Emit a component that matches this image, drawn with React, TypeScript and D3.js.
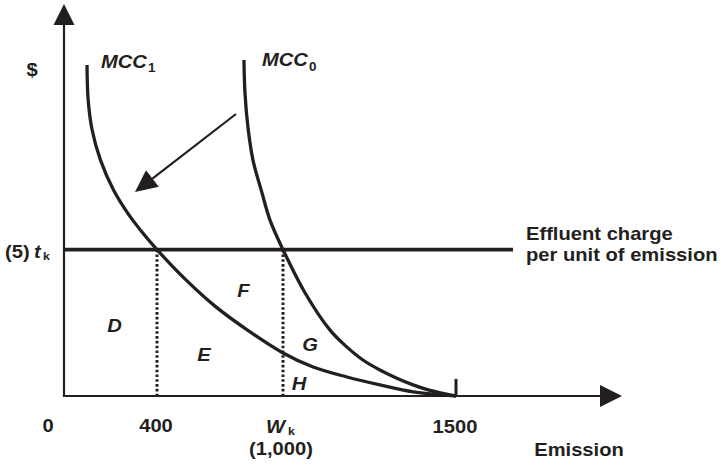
import React from "react";
import * as d3 from "d3";

// ---- data (schematic economic chart) ----
const xBreaks = [0, 400, 1000, 1500];
const xTickLabels = ["0", "400", "", "1500"];
const tax = 5; // t_k
const wk = 1000;
const yMax = 13.36;

const mcc1X = [99, 104, 121, 157, 213, 280, 346, 400, 533, 676, 843, 1000, 1087, 1185, 1280, 1376, 1500];
const mcc1Y = [11.31, 10.11, 9.09, 8.06, 7.04, 6.18, 5.5, 5, 4.0, 3.07, 2.19, 1.47, 0.99, 0.65, 0.38, 0.14, 0];
const mcc0X = [814, 819, 833, 857, 900, 938, 1000, 1064, 1136, 1185, 1231, 1280, 1329, 1376, 1425, 1500];
const mcc0Y = [11.48, 10.35, 9.19, 8.06, 6.94, 6.01, 5, 3.52, 2.25, 1.67, 1.23, 0.89, 0.61, 0.38, 0.19, 0];

const areaLabels = ["D", "E", "F", "G", "H"];
const areaX = [217, 624, 812, 1078, 1046];
const areaY = [2.19, 1.2, 3.38, 1.54, 0.2];

const INK = "#231f20";
const SX = 1.12;
const FONT = "'Liberation Sans', Arial, sans-serif";

type TProps = {
  x: number;
  y: number;
  size?: number;
  anchor?: "start" | "middle" | "end";
  italic?: boolean;
  children: React.ReactNode;
};

function T({ x, y, size = 18, anchor = "start", italic = false, children }: TProps) {
  return (
    <text
      transform={`translate(${x},${y}) scale(${SX},1)`}
      fontFamily={FONT}
      fontSize={size}
      fontStyle={italic ? "italic" : "normal"}
      fontWeight="bold"
      textAnchor={anchor}
      fill={INK}
    >
      {children}
    </text>
  );
}

export default function App() {
  const W = 721;
  const H = 468;
  const x = d3.scaleLinear().domain(xBreaks).range([64, 157, 283, 456]);
  const y = d3.scaleLinear().domain([0, yMax]).range([396, 5]);

  const line = d3
    .line<[number, number]>()
    .x((d) => x(d[0]))
    .y((d) => y(d[1]))
    .curve(d3.curveCatmullRom.alpha(0.5));

  const mcc1 = mcc1X.map((v, i) => [v, mcc1Y[i]] as [number, number]);
  const mcc0 = mcc0X.map((v, i) => [v, mcc0Y[i]] as [number, number]);

  const x0 = x(0);
  const yBase = y(0);
  const yTax = y(tax);

  // inner arrow
  const aStart: [number, number] = [236, 114];
  const aTip: [number, number] = [135, 192];
  const dx = aTip[0] - aStart[0];
  const dy = aTip[1] - aStart[1];
  const len = Math.hypot(dx, dy);
  const ux = dx / len;
  const uy = dy / len;
  const hl = 22;
  const hw = 10.5;
  const bx = aTip[0] - ux * hl;
  const by = aTip[1] - uy * hl;
  const head = `M${aTip[0]},${aTip[1]} L${bx - uy * hw},${by + ux * hw} L${bx + uy * hw},${by - ux * hw} Z`;

  return (
    <svg
      width={W}
      height={H}
      viewBox={`0 0 ${W} ${H}`}
      style={{ position: "absolute", left: 0, top: 0, background: "#fff" }}
    >
      <rect x={0} y={0} width={W} height={H} fill="#fff" />
      {/* axes */}
      <line x1={x0} y1={24} x2={x0} y2={yBase} stroke={INK} strokeWidth={2.2} />
      <path d={`M${x0},4 L${x0 - 10.5},25 L${x0 + 10.5},25 Z`} fill={INK} />
      <line x1={x0 - 1.1} y1={yBase} x2={602} y2={yBase} stroke={INK} strokeWidth={2.2} />
      <path d={`M622,${yBase} L600,${yBase - 11} L600,${yBase + 11} Z`} fill={INK} />
      {/* tick at 1500 */}
      <line x1={x(1500)} y1={379} x2={x(1500)} y2={yBase} stroke={INK} strokeWidth={3} />

      {/* dotted verticals */}
      <line x1={x(400)} y1={yTax} x2={x(400)} y2={yBase} stroke={INK} strokeWidth={3} strokeDasharray="2.6,2.2" />
      <line x1={x(wk)} y1={yTax} x2={x(wk)} y2={yBase} stroke={INK} strokeWidth={3} strokeDasharray="2.6,2.2" />

      {/* effluent charge line */}
      <line x1={x0} y1={yTax} x2={513} y2={yTax} stroke={INK} strokeWidth={3.6} />

      {/* curves */}
      <path d={line(mcc1) || ""} fill="none" stroke={INK} strokeWidth={3.3} />
      <path d={line(mcc0) || ""} fill="none" stroke={INK} strokeWidth={3.3} />

      {/* shift arrow */}
      <line x1={aStart[0]} y1={aStart[1]} x2={bx} y2={by} stroke={INK} strokeWidth={2.2} />
      <path d={head} fill={INK} />

      {/* curve labels */}
      <T x={101} y={68} italic>MCC</T>
      <T x={148} y={72} size={12}>1</T>
      <T x={262} y={66} italic>MCC</T>
      <T x={309} y={71} size={12}>0</T>

      {/* y labels */}
      <T x={32} y={76} anchor="middle">$</T>
      <T x={5} y={258}>(5)</T>
      <T x={34} y={258} italic>t</T>
      <T x={43} y={260} size={11}>k</T>

      {/* x tick labels */}
      <T x={x(0) - 16} y={432} anchor="middle">{xTickLabels[0]}</T>
      <T x={x(400) - 1} y={432} anchor="middle">{xTickLabels[1]}</T>
      <T x={x(1500) - 1} y={433} anchor="middle">{xTickLabels[3]}</T>
      <T x={266} y={433} italic>W</T>
      <T x={288} y={435} size={11}>k</T>
      <T x={x(wk) - 2} y={455} anchor="middle">(1,000)</T>
      <T x={579} y={456} anchor="middle">Emission</T>

      {/* effluent label */}
      <T x={526} y={240} size={18}>Effluent charge</T>
      <T x={526} y={261} size={18}>per unit of emission</T>

      {/* area labels */}
      {areaLabels.map((l, i) => (
        <T key={l} x={x(areaX[i])} y={y(areaY[i])} italic anchor="middle">
          {l}
        </T>
      ))}
    </svg>
  );
}
